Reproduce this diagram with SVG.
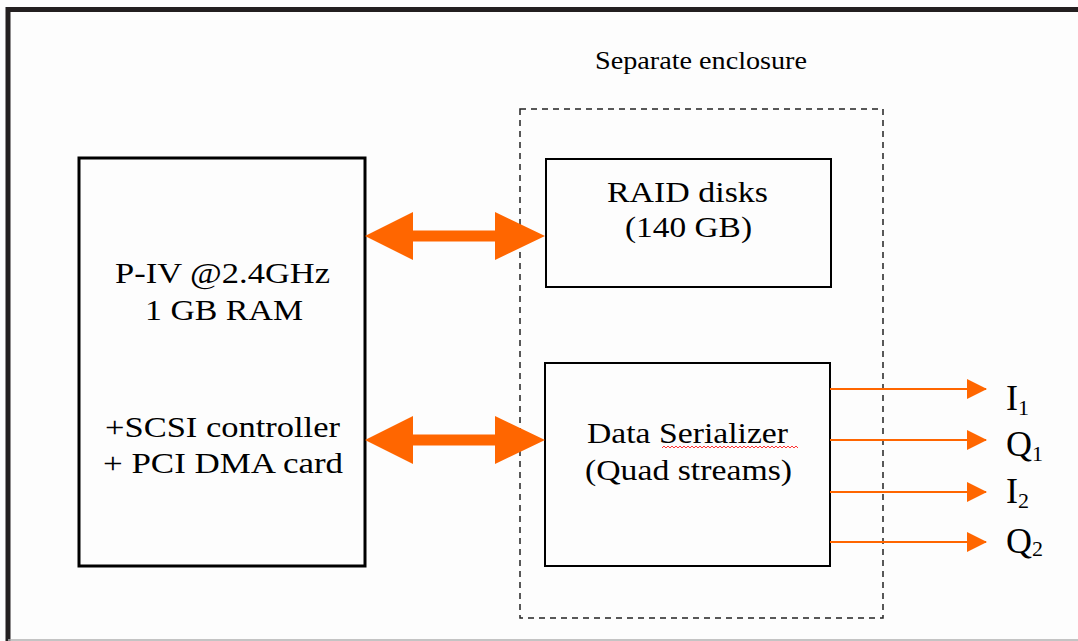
<svg xmlns="http://www.w3.org/2000/svg" width="1078" height="641" viewBox="0 0 1078 641">
<style>
.t{font-family:"Liberation Serif","Times New Roman",serif;font-size:30px;fill:#000;text-anchor:middle}
.box{fill:none;stroke:#000;stroke-width:2}
.sig{font-family:"Liberation Serif","Times New Roman",serif;font-size:36px;fill:#000}
.sub{font-size:22px}
.out{stroke:#ff6600;stroke-width:2;fill:none}
</style>
<defs>
<marker id="ah" markerWidth="20" markerHeight="20" refX="19" refY="10" orient="auto" markerUnits="userSpaceOnUse">
<path d="M0,0 L20,10 L0,20 Z" fill="#ff6600"/>
</marker>
</defs>
<rect width="1078" height="641" fill="#fdfdfd"/>
<path d="M8,641 V9.5 H1078" fill="none" stroke="#231f20" stroke-width="5"/>
<line x1="8" y1="640" x2="1078" y2="640" stroke="#b0b0b0" stroke-width="1.5"/>

<g id="enclosure">
<rect x="520" y="109" width="363" height="509" fill="none" stroke="#222" stroke-width="1.5" stroke-dasharray="6,5"/>
<text x="701" y="69" class="t" style="font-size:25px" textLength="212" lengthAdjust="spacingAndGlyphs">Separate enclosure</text>
</g>

<g id="cpu">
<rect x="79" y="158" width="286" height="408" class="box" style="stroke-width:3"/>
<text x="222.5" y="283" class="t" textLength="215" lengthAdjust="spacingAndGlyphs">P-IV @2.4GHz</text>
<text x="224" y="320" class="t" textLength="158" lengthAdjust="spacingAndGlyphs">1 GB RAM</text>
<text x="222.5" y="437" class="t" textLength="235" lengthAdjust="spacingAndGlyphs">+SCSI controller</text>
<text x="223" y="473" class="t" textLength="240" lengthAdjust="spacingAndGlyphs">+ PCI DMA card</text>
</g>

<g id="raid">
<rect x="546" y="159" width="285" height="128" class="box"/>
<text x="687.5" y="202" class="t" textLength="161" lengthAdjust="spacingAndGlyphs">RAID disks</text>
<text x="688.5" y="237" class="t" textLength="127" lengthAdjust="spacingAndGlyphs">(140 GB)</text>
</g>

<g id="serializer">
<rect x="545" y="363" width="285" height="203" class="box"/>
<text x="687.5" y="443" class="t" textLength="201" lengthAdjust="spacingAndGlyphs">Data Serializer</text>
<text x="688.5" y="480" class="t" textLength="207" lengthAdjust="spacingAndGlyphs">(Quad streams)</text>
<path d="M662,448 l2,-2 l2,2 l2,-2 l2,2 l2,-2 l2,2 l2,-2 l2,2 l2,-2 l2,2 l2,-2 l2,2 l2,-2 l2,2 l2,-2 l2,2 l2,-2 l2,2 l2,-2 l2,2 l2,-2 l2,2 l2,-2 l2,2 l2,-2 l2,2 l2,-2 l2,2 l2,-2 l2,2 l2,-2 l2,2 l2,-2 l2,2 l2,-2 l2,2 l2,-2 l2,2 l2,-2 l2,2 l2,-2 l2,2 l2,-2 l2,2 l2,-2 l2,2 l2,-2 l2,2 l2,-2 l2,2 l2,-2 l2,2 l2,-2 l2,2 l2,-2 l2,2 l2,-2 l2,2 l2,-2 l2,2 l2,-2 l2,2 l2,-2 l2,2 l2,-2 l2,2 l2,-2 l2,2" fill="none" stroke="#ff0000" stroke-width="0.8"/>
</g>

<g id="connectors">
<polygon points="365,236 413,212 413,230.5 495,230.5 495,212 545,236 495,260 495,241.5 413,241.5 413,260" fill="#ff6600"/>
<polygon points="365,440 413,416 413,434.5 495,434.5 495,416 545,440 495,464 495,445.5 413,445.5 413,464" fill="#ff6600"/>
<line x1="830" y1="389" x2="986" y2="389" class="out" marker-end="url(#ah)"/>
<line x1="830" y1="440" x2="986" y2="440" class="out" marker-end="url(#ah)"/>
<line x1="830" y1="492" x2="986" y2="492" class="out" marker-end="url(#ah)"/>
<line x1="830" y1="542" x2="986" y2="542" class="out" marker-end="url(#ah)"/>
</g>

<g id="labels">
<text x="1006" y="410" class="sig">I<tspan class="sub" dy="5">1</tspan></text>
<text x="1006" y="456" class="sig">Q<tspan class="sub" dy="5">1</tspan></text>
<text x="1006" y="503" class="sig">I<tspan class="sub" dy="5">2</tspan></text>
<text x="1006" y="553" class="sig">Q<tspan class="sub" dy="3">2</tspan></text>
</g>
</svg>
